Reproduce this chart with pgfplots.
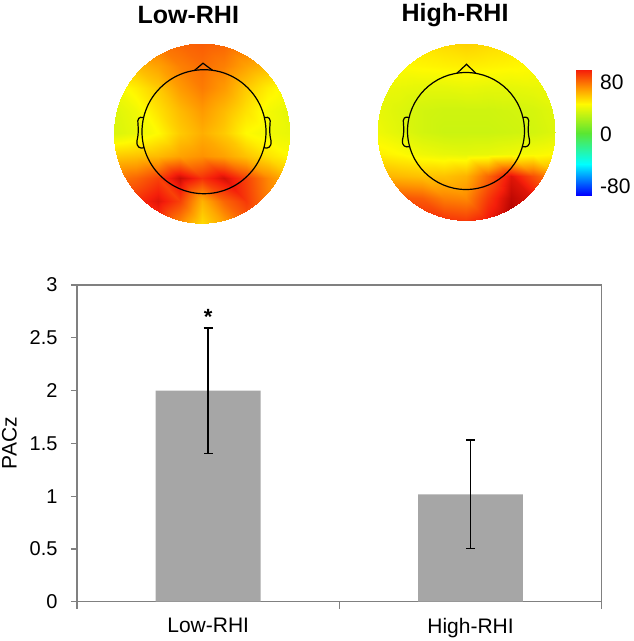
\documentclass[border=0pt]{standalone}
\usepackage{pgfplots}
\pgfplotsset{compat=1.18}
\usepackage{fontspec}
\setmainfont{Liberation Sans}
\definecolor{axgray}{RGB}{128,128,128}
\definecolor{barg}{RGB}{166,166,166}
\pgfplotsset{
  colormap={topo}{rgb255(0pt)=(0,0,255); rgb255(48pt)=(0,255,255); rgb255(96pt)=(90,230,50); rgb255(140pt)=(255,250,0); rgb255(165pt)=(255,150,0); rgb255(192pt)=(245,30,10); rgb255(206pt)=(170,0,0)},
  topomap/.style={hide axis, scale only axis, xmin=-1, xmax=1, ymin=-1, ymax=1,
    view={0}{90}, colormap name=topo, point meta min=-96, point meta max=110, anchor=center},
}
\begin{document}
\begin{tikzpicture}
\useasboundingbox (0pt,0pt) rectangle (633pt,-641pt);
% ---------- Low-RHI map
\begin{scope}
\clip (201.7pt,-133.3pt) ellipse [x radius=88pt, y radius=90pt];
\begin{axis}[topomap, at={(201.7pt,-133.3pt)}, width=176pt, height=180pt]
\addplot3[surf, shader=interp, mesh/cols=9] table[row sep=\\] {
x y z\\
-1 1 72\\ -0.75 1 74\\ -0.5 1 77\\ -0.25 1 80\\ 0 1 82\\ 0.25 1 80\\ 0.5 1 77\\ 0.75 1 74\\ 1 1 72\\
-1 0.75 55\\ -0.75 0.75 60\\ -0.5 0.75 66\\ -0.25 0.75 74\\ 0 0.75 78\\ 0.25 0.75 74\\ 0.5 0.75 66\\ 0.75 0.75 60\\ 1 0.75 55\\
-1 0.5 40\\ -0.75 0.5 47\\ -0.5 0.5 56\\ -0.25 0.5 68\\ 0 0.5 75\\ 0.25 0.5 68\\ 0.5 0.5 56\\ 0.75 0.5 47\\ 1 0.5 40\\
-1 0.25 35\\ -0.75 0.25 40\\ -0.5 0.25 50\\ -0.25 0.25 60\\ 0 0.25 68\\ 0.25 0.25 60\\ 0.5 0.25 50\\ 0.75 0.25 41\\ 1 0.25 37\\
-1 0 34\\ -0.75 0 38\\ -0.5 0 44\\ -0.25 0 56\\ 0 0 63\\ 0.25 0 56\\ 0.5 0 44\\ 0.75 0 40\\ 1 0 38\\
-1 -0.25 56\\ -0.75 -0.25 58\\ -0.5 -0.25 60\\ -0.25 -0.25 66\\ 0 -0.25 70\\ 0.25 -0.25 66\\ 0.5 -0.25 58\\ 0.75 -0.25 50\\ 1 -0.25 44\\
-1 -0.5 75\\ -0.75 -0.5 80\\ -0.5 -0.5 88\\ -0.25 -0.5 104\\ 0 -0.5 92\\ 0.25 -0.5 102\\ 0.5 -0.5 88\\ 0.75 -0.5 72\\ 1 -0.5 60\\
-1 -0.75 82\\ -0.75 -0.75 92\\ -0.5 -0.75 100\\ -0.25 -0.75 88\\ 0 -0.75 62\\ 0.25 -0.75 80\\ 0.5 -0.75 90\\ 0.75 -0.75 74\\ 1 -0.75 62\\
-1 -1 82\\ -0.75 -1 90\\ -0.5 -1 90\\ -0.25 -1 72\\ 0 -1 52\\ 0.25 -1 66\\ 0.5 -1 80\\ 0.75 -1 72\\ 1 -1 62\\
};
\end{axis}
\end{scope}
% ---------- High-RHI map
\begin{scope}
\clip (466.2pt,-132pt) ellipse [x radius=88.8pt, y radius=88.5pt];
\begin{axis}[topomap, at={(466.2pt,-132pt)}, width=177.6pt, height=177pt]
\addplot3[surf, shader=interp, mesh/cols=9] table[row sep=\\] {
x y z\\
-1 1 48\\ -0.75 1 49\\ -0.5 1 50\\ -0.25 1 52\\ 0 1 54\\ 0.25 1 52\\ 0.5 1 50\\ 0.75 1 49\\ 1 1 48\\
-1 0.75 44\\ -0.75 0.75 44\\ -0.5 0.75 45\\ -0.25 0.75 46\\ 0 0.75 47\\ 0.25 0.75 46\\ 0.5 0.75 45\\ 0.75 0.75 44\\ 1 0.75 44\\
-1 0.5 39\\ -0.75 0.5 38\\ -0.5 0.5 37\\ -0.25 0.5 37\\ 0 0.5 38\\ 0.25 0.5 37\\ 0.5 0.5 37\\ 0.75 0.5 38\\ 1 0.5 39\\
-1 0.25 38\\ -0.75 0.25 35\\ -0.5 0.25 32\\ -0.25 0.25 31\\ 0 0.25 31\\ 0.25 0.25 31\\ 0.5 0.25 32\\ 0.75 0.25 33\\ 1 0.25 36\\
-1 0 40\\ -0.75 0 36\\ -0.5 0 32\\ -0.25 0 30\\ 0 0 30\\ 0.25 0 30\\ 0.5 0 31\\ 0.75 0 32\\ 1 0 35\\
-1 -0.25 47\\ -0.75 -0.25 44\\ -0.5 -0.25 40\\ -0.25 -0.25 38\\ 0 -0.25 37\\ 0.25 -0.25 38\\ 0.5 -0.25 40\\ 0.75 -0.25 42\\ 1 -0.25 44\\
-1 -0.5 62\\ -0.75 -0.5 60\\ -0.5 -0.5 58\\ -0.25 -0.5 58\\ 0 -0.5 62\\ 0.25 -0.5 80\\ 0.5 -0.5 100\\ 0.75 -0.5 85\\ 1 -0.5 70\\
-1 -0.75 82\\ -0.75 -0.75 84\\ -0.5 -0.75 82\\ -0.25 -0.75 74\\ 0 -0.75 72\\ 0.25 -0.75 90\\ 0.5 -0.75 106\\ 0.75 -0.75 100\\ 1 -0.75 85\\
-1 -1 90\\ -0.75 -1 92\\ -0.5 -1 94\\ -0.25 -1 92\\ 0 -1 90\\ 0.25 -1 98\\ 0.5 -1 110\\ 0.75 -1 100\\ 1 -1 88\\
};
\end{axis}
\end{scope}
% ---------- head outlines
\begin{scope}[shift={(204pt,-131.7pt)}, x=1pt, y=1pt, line width=1.2pt]
\draw (0,0) circle [radius=62];
\draw (-9.5,61.3) -- (-1,68.5) -- (8.5,61.4);
\draw (-60.4,14) .. controls (-65,15.5) and (-67,13) .. (-66,7) .. controls (-65.5,3) and (-65.5,-3) .. (-67,-9) .. controls (-68,-15) and (-64,-17.5) .. (-59.9,-16);
\draw (60.4,14) .. controls (65,15.5) and (67,13) .. (66,7) .. controls (65.5,3) and (65.5,-3) .. (67,-9) .. controls (68,-15) and (64,-17.5) .. (59.9,-16);
\end{scope}
\begin{scope}[shift={(466pt,-131pt)}, x=1pt, y=1pt, line width=1.2pt]
\draw (0,0) circle [radius=58.5];
\draw (-9,57.8) -- (0.5,66.7) -- (10,57.6);
\draw (-57,13.5) .. controls (-61.5,15) and (-63.5,12.5) .. (-62.5,6.5) .. controls (-62,2.5) and (-62,-3) .. (-63.5,-9) .. controls (-64.5,-14.5) and (-60.5,-17) .. (-56.3,-15.5);
\draw (57,13.5) .. controls (61.5,15) and (63.5,12.5) .. (62.5,6.5) .. controls (62,2.5) and (62,-3) .. (63.5,-9) .. controls (64.5,-14.5) and (60.5,-17) .. (56.3,-15.5);
\end{scope}
% ---------- titles
\node[font=\bfseries\fontsize{25}{30}\selectfont] at (188.3pt,-15pt) {Low-RHI};
\node[font=\bfseries\fontsize{25}{30}\selectfont] at (455pt,-15pt) {High-RHI};
% ---------- colorbar
\begin{axis}[scale only axis, at={(576pt,-195pt)}, anchor=south west, width=15.7pt, height=125pt,
  xmin=0, xmax=1, ymin=-96, ymax=96, view={0}{90}, hide x axis,
  ytick={-80,0,80}, yticklabels={-80,0,80}, yticklabel pos=right,
  y axis line style={draw=none}, ytick style={draw=none},
  colormap name=topo, point meta min=-96, point meta max=110,
  yticklabel style={font=\fontsize{21}{25}\selectfont, anchor=west, xshift=5pt, yshift=-2pt}]
\addplot3[surf, shader=interp, mesh/cols=2] table[row sep=\\] {
x y z\\
0 -96 -96\\ 1 -96 -96\\
0 -48 -48\\ 1 -48 -48\\
0 0 0\\ 1 0 0\\
0 44 44\\ 1 44 44\\
0 69 69\\ 1 69 69\\
0 96 96\\ 1 96 96\\
};
\end{axis}
% ---------- bar chart
\begin{axis}[scale only axis, at={(77pt,-601.7pt)}, anchor=south west,
  width=524.7pt, height=316.7pt,
  xmin=-0.5, xmax=1.5, ymin=0, ymax=3,
  ybar, bar width=0.4,
  ytick={0,0.5,1,1.5,2,2.5,3},
  xtick={0,1}, xticklabels={Low-RHI,High-RHI},
  minor xtick={-0.5,0.5,1.5},
  major x tick style={draw=none},
  tick align=outside, major tick length=6pt, minor tick length=7pt,
  ytick pos=left, xtick pos=bottom,
  axis line style={axgray, line width=1.2pt},
  tick style={axgray, line width=1.2pt},
  /pgf/number format/assume math mode=true,
  yticklabel style={font=\fontsize{20}{24}\selectfont, xshift=-10pt},
  xticklabel style={font=\fontsize{21}{25}\selectfont, yshift=-7pt},
  ylabel={PACz},
  every axis y label/.style={at={(axis description cs:-0.1287,0.5)}, rotate=90, anchor=center, font=\fontsize{21}{25}\selectfont},
  clip=false]
\addplot[fill=barg, draw=none,
  error bars/.cd, y dir=both, y explicit,
  error bar style={black, line width=1.6pt},
  error mark options={black, line width=1.6pt, mark size=4.5pt, rotate=90}]
  coordinates {(0,2.0) +- (0,0.595) (1,1.017) +- (0,0.512)};
\node[anchor=base, font=\bfseries\fontsize{22}{24}\selectfont] at (axis cs:0,2.625) {*};
\end{axis}
\end{tikzpicture}
\end{document}
